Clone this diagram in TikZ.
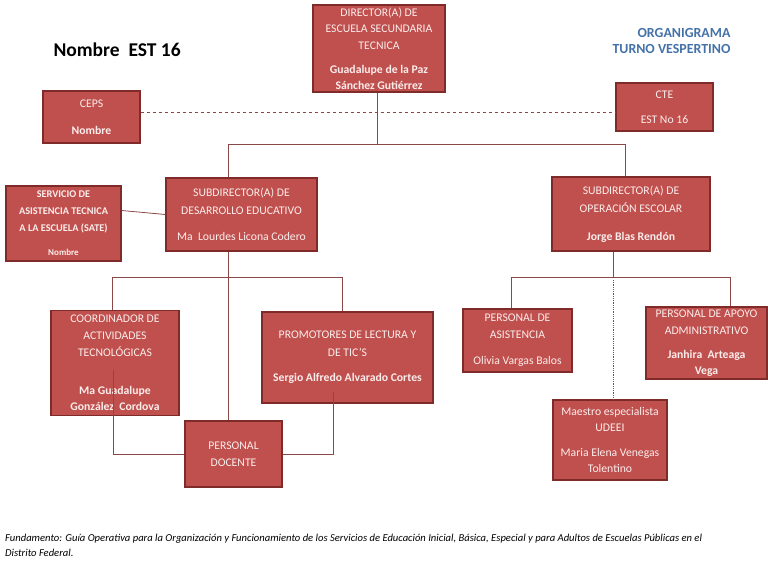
\documentclass[tikz,border=0pt]{standalone}
\usepackage{fontspec}
\setmainfont{Carlito}
\definecolor{boxfill}{HTML}{C0504D}
\definecolor{boxline}{HTML}{7E2B2A}
\definecolor{boxtext}{HTML}{FBEDEC}
\definecolor{linkcol}{HTML}{8A4848}
\definecolor{titleblue}{HTML}{4472A8}
\begin{document}
\begin{tikzpicture}[x=1pt, y=-1pt,
    cargo/.style = {draw=boxline, fill=boxfill, text=boxtext, line width=1.3pt, align=center, inner sep=0pt, font=\fontsize{11.7}{16.5}\selectfont},
    link/.style = {draw=linkcol, line width=0.8pt}]
    \useasboundingbox (0,0) rectangle (768,576);
    % titulos
    \node[font=\fontsize{19.5}{22}\selectfont\bfseries, anchor=west] (nombre) at (50,50) {Nombre\ \ EST\ 16};
    \node[font=\fontsize{13.9}{16.5}\selectfont\bfseries, text=titleblue, align=right, anchor=east] (orga) at (734,41) {ORGANIGRAMA\\TURNO VESPERTINO};
    % cajas
    \node[cargo, minimum width=132pt, minimum height=87pt] (dir) at (379,48.5) {DIRECTOR(A) DE\\ESCUELA SECUNDARIA\\TECNICA\\[8pt]\textbf{Guadalupe de la Paz}\\[-1pt]\textbf{Sánchez Gutiérrez}};
    \node[cargo, minimum width=97pt, minimum height=52pt] (ceps) at (91.5,117) {CEPS\\[10pt]\textbf{Nombre}};
    \node[cargo, minimum width=97pt, minimum height=48pt] (cte) at (664.5,107) {CTE\\[9pt]EST No 16};
    \node[cargo, minimum width=115pt, minimum height=75pt, font=\fontsize{10.3}{17}\selectfont\bfseries] (sate) at (63.5,223.5) {SERVICIO DE\\ASISTENCIA TECNICA\\A LA ESCUELA (SATE)\\[7pt]{\fontsize{9}{10}\selectfont Nombre}};
    \node[cargo, minimum width=151pt, minimum height=73pt] (sub1) at (241.5,214.5) {SUBDIRECTOR(A) DE\\[1pt]DESARROLLO EDUCATIVO\\[10pt]Ma\ \ Lourdes Licona Codero};
    \node[cargo, minimum width=158pt, minimum height=74pt] (sub2) at (631,214) {SUBDIRECTOR(A) DE\\[2pt]OPERACIÓN ESCOLAR\\[11pt]\textbf{Jorge Blas Rendón}};
    \node[cargo, minimum width=128pt, minimum height=105pt, font=\fontsize{11.7}{17}\selectfont] (coord) at (115,363) {COORDINADOR DE\\ACTIVIDADES\\TECNOLÓGICAS\\[21pt]\textbf{Ma Guadalupe}\\[-1pt]\textbf{González\ \ Cordova}};
    \node[cargo, minimum width=171pt, minimum height=91pt] (prom) at (347.5,357.5) {PROMOTORES DE LECTURA Y\\[1pt]DE TIC'S\\[9pt]\textbf{Sergio Alfredo Alvarado Cortes}};
    \node[cargo, minimum width=97pt, minimum height=66pt] (doc) at (233.5,454) {PERSONAL\\DOCENTE};
    \node[cargo, minimum width=109pt, minimum height=63pt] (asis) at (517.5,340.5) {PERSONAL DE\\ASISTENCIA\\[10pt]Olivia Vargas Balos};
    \node[cargo, minimum width=121pt, minimum height=72pt] (apoyo) at (706.5,343) {PERSONAL DE APOYO\\ADMINISTRATIVO\\[8pt]\textbf{Janhira\ \ Arteaga}\\[-1pt]\textbf{Vega}};
    \node[cargo, minimum width=114pt, minimum height=80pt] (udeei) at (610,440) {Maestro especialista\\UDEEI\\[8pt]Maria Elena Venegas\\Tolentino};
    % lineas
    \coordinate (busAl) at (228,144);
    \coordinate (busAr) at (625,144);
    \coordinate (busBl) at (112,277);
    \coordinate (busBr) at (342,277);
    \coordinate (busCl) at (511,277);
    \coordinate (busCr) at (730,277);
    \coordinate (midC) at (613,277);
    \coordinate (dashy) at (0,112);
    \draw[link] ([xshift=-2pt]dir.south) -- ([xshift=-2pt]dir.south |- busAl);
    \draw[link] (busAl) -- (busAr);
    \draw[link] (busAl) -- (sub1.north -| busAl);
    \draw[link] (busAr) -- (sub2.north -| busAr);
    \draw[link, dashed, line width=0.7pt] (ceps.east |- dashy) -- (cte.west |- dashy);
    \draw[link] ([yshift=13pt]sate.east) -- (sub1.west);
    \draw[link] (sub1.south -| busAl) -- (doc.north -| busAl);
    \draw[link] (busBl) -- (busBr);
    \draw[link] (busBl) -- (coord.north -| busBl);
    \draw[link] (busBr) -- (prom.north -| busBr);
    \draw[link] ([xshift=-2pt,yshift=-7pt]coord.center) |- (doc.west);
    \draw[link] ([xshift=-14.5pt,yshift=-34.5pt]prom.center) |- (doc.east);
    \draw[link] (sub2.south -| midC) -- (midC);
    \draw[link] (busCl) -- (busCr);
    \draw[link] (busCl) -- (asis.north -| busCl);
    \draw[link] (busCr) -- (apoyo.north -| busCr);
    \draw[link, densely dotted, line width=1pt] ([yshift=-3pt]midC) -- (udeei.north -| midC);
    % pie
    \node[font=\fontsize{10.6}{15}\selectfont\itshape, align=left, anchor=north west, inner sep=0pt] (pie) at (5,534) {Fundamento: Guía Operativa para la Organización y Funcionamiento de los Servicios de Educación Inicial, Básica, Especial y para Adultos de Escuelas Públicas en el\\Distrito Federal.};
\end{tikzpicture}
\end{document}
